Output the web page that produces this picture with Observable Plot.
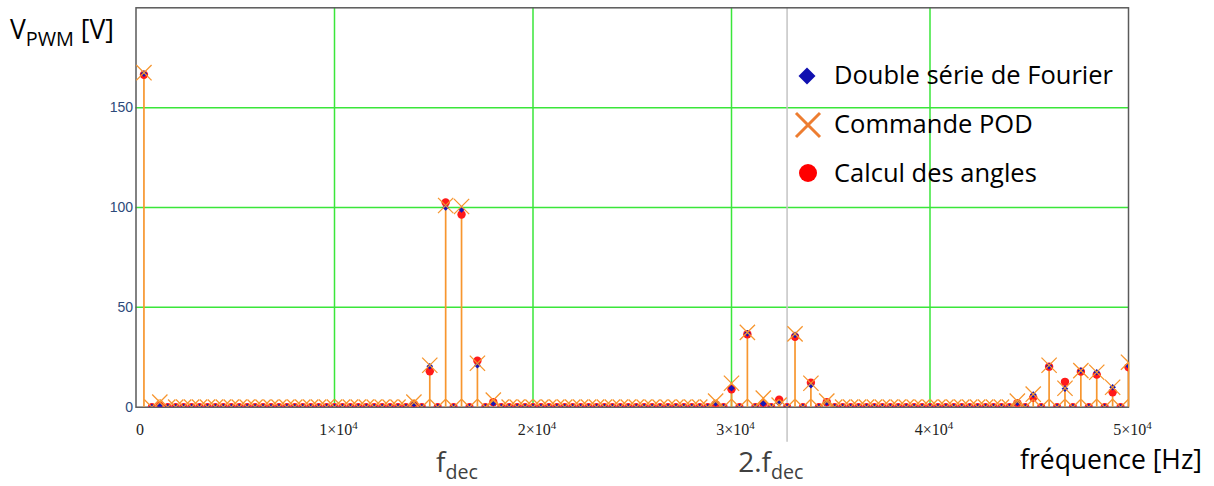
<!DOCTYPE html>
<html><head><meta charset="utf-8">
<script src="https://cdn.jsdelivr.net/npm/d3@7"></script>
<script src="https://cdn.jsdelivr.net/npm/@observablehq/plot@0.6"></script>
<style>
body{margin:0;background:#fff;}
#wrap{position:relative;width:1214px;height:486px;overflow:hidden;background:#fff;}
.lbl{position:absolute;white-space:nowrap;font-family:"Open Sans",Lato,sans-serif;line-height:1;color:#000;}
.sub{font-size:0.7em;position:relative;top:0.35em;}
</style></head><body><div id="wrap"></div>
<script>
// fundamental frequency (Hz) and harmonic orders
const f0 = 400;
const harmonicOrders = [
  1,2,3,4,5,6,7,8,9,10,11,12,13,14,15,16,17,18,19,20,
  21,22,23,24,25,26,27,28,29,30,31,32,33,34,35,36,37,38,39,40,
  41,42,43,44,45,46,47,48,49,50,51,52,53,54,55,56,57,58,59,60,
  61,62,63,64,65,66,67,68,69,70,71,72,73,74,75,76,77,78,79,80,
  81,82,83,84,85,86,87,88,89,90,91,92,93,94,95,96,97,98,99,100,
  101,102,103,104,105,106,107,108,109,110,111,112,113,114,115,116,117,118,119,120,
  121,122,123,124,125
];
// amplitudes [V] per harmonic
const podValues = [
  167.5,0,2.5,0,0,0,0,0,0,0, 0,0,0,0,0,0,0,0,0,0,
  0,0,0,0,0,0,0,0,0,0, 0,0,0,0,2.5,0,21,0,101,0,
  100.5,0,22,0,3.5,0,0,0,0,0, 0,0,0,0,0,0,0,0,0,0,
  0,0,0,0,0,0,0,0,0,0, 0,0,3,0,12,0,37.5,0,4.5,0,
  1,0,36.7,0,12,0,3,0,0,0, 0,0,0,0,0,0,0,0,0,0,
  0,0,0,0,0,0,0,0,0,0, 3,0,6.5,0,21,0,9.5,0,18.3,0,
  17.5,0,10,0,22.5
];
const fourierValues = [
  167,0,0.8,0,0,0,0,0,0,0, 0,0,0,0,0,0,0,0,0,0,
  0,0,0,0,0,0,0,0,0,0, 0,0,0,0,1.5,0,20.5,0,100,0,
  99,0,21,0,2,0,0,0,0,0, 0,0,0,0,0,0,0,0,0,0,
  0,0,0,0,0,0,0,0,0,0, 0,0,2,0,9.5,0,37,0,1.8,0,
  2,0,36.2,0,11,0,2.3,0,0,0, 0,0,0,0,0,0,0,0,0,0,
  0,0,0,0,0,0,0,0,0,0, 2.2,0,6.3,0,20.5,0,9.3,0,18.3,0,
  17.5,0,10,0,20.8
];
const angleValues = [
  166.5,0,0.8,0,0,0,0,0,0,0, 0,0,0,0,0,0,0,0,0,0,
  0,0,0,0,0,0,0,0,0,0, 0,0,0,0,1.5,0,18,0,102.5,0,
  96.5,0,23.3,0,2.5,0,0,0,0,0, 0,0,0,0,0,0,0,0,0,0,
  0,0,0,0,0,0,0,0,0,0, 0,0,1.5,0,9,0,36.5,0,1.8,0,
  3.8,0,35.3,0,12.3,0,2.5,0,0,0, 0,0,0,0,0,0,0,0,0,0,
  0,0,0,0,0,0,0,0,0,0, 2,0,4.8,0,20.3,0,12.7,0,17.8,0,
  16.3,0,7.5,0,20
];
const xTicks = [0,10000,20000,30000,40000,50000];
const xGridLines = [10000,20000,30000,40000];
const yTicks = [0,50,100,150];
const yGridLines = [50,100,150];
const fDec = 16000;
const markerLineFreq = 32800;
const seriesNames = ["Double série de Fourier","Commande POD","Calcul des angles"];

const data = harmonicOrders.map((n,i)=>({freq:n*f0, pod:podValues[i], fourier:fourierValues[i], angles:angleValues[i]}));

const orange = "#f7962f";
const fmt = d => d===0 ? "0" : `${d/10000}×10^4`;

const chart = Plot.plot({
  width:1214, height:486,
  marginLeft:135.5, marginRight:86, marginTop:7.3, marginBottom:79.3,
  x:{domain:[0,50000]},
  y:{domain:[0,200]},
  style:{background:"transparent"},
  marks:[
    Plot.ruleY(yGridLines,{stroke:"#3ae63a",strokeWidth:1.5}),
    Plot.ruleX(xGridLines,{stroke:"#3ae63a",strokeWidth:1.5}),
    Plot.ruleX([markerLineFreq],{x:d=>d,y1:-17.5,y2:200,stroke:"#c4c4c4",strokeWidth:1.5}),
    Plot.frame({stroke:"#5a5a5a",strokeWidth:1.5}),
    Plot.ruleX(data,{x:"freq",y1:0,y2:"pod",stroke:orange,strokeWidth:1.7}),
    Plot.dot(data,{x:"freq",y:"angles",r:4.2,fill:"#ff1a1a",clip:true}),
    Plot.dot(data,{x:"freq",y:"fourier",symbol:"diamond2",r:3,fill:"#1616b8",clip:true}),
    Plot.dot(data,{x:"freq",y:"pod",symbol:"times",r:7,stroke:orange,strokeWidth:1.3,clip:true}),
    Plot.axisY({ticks:yTicks,tickSize:0,tickPadding:3,fill:"#2d4a7a",label:null}),
    Plot.axisX({ticks:xTicks,tickFormat:fmt,tickSize:0,tickPadding:16,fill:"#222",dx:4,label:null})
  ]
});
const wrap = document.getElementById("wrap");
chart.style.position="absolute"; chart.style.left="0"; chart.style.top="0";
wrap.appendChild(chart);
// tick label styling + superscript exponent in x tick labels
chart.querySelectorAll("text").forEach(t=>{
  const s=t.textContent;
  if(s.includes("×10^")){
    const [base,exp]=s.split("^");
    t.textContent="";
    const a=document.createElementNS("http://www.w3.org/2000/svg","tspan"); a.textContent=base;
    const b=document.createElementNS("http://www.w3.org/2000/svg","tspan"); b.textContent=exp;
    b.setAttribute("dy","-0.5em"); b.style.fontSize="11px";
    t.appendChild(a); t.appendChild(b);
    t.style.fontSize="16px"; t.style.fontFamily="'Liberation Serif', serif";
  } else if(s==="0" && t.closest('[aria-label*="x-axis"]')){
    t.style.fontSize="16px"; t.style.fontFamily="'Liberation Serif', serif";
  } else if(/^\d+$/.test(s)){
    t.style.fontSize="14px"; t.style.fontFamily="'Liberation Sans', sans-serif";
  }
});

const xs = chart.scale("x");
function addLabel(html, style){
  const d=document.createElement("div"); d.className="lbl"; d.innerHTML=html;
  Object.assign(d.style, style); wrap.appendChild(d); return d;
}
addLabel('V<span class="sub" style="font-size:0.75em">PWM</span> [V]',{left:"10px",top:"16px",fontSize:"26.5px"});
addLabel('fréquence [Hz]',{left:"1020px",top:"446px",fontSize:"26.5px"});
const l1=addLabel('f<span class="sub">dec</span>',{top:"447px",fontSize:"28px",color:"#404040"});
l1.style.left=(xs.apply(fDec)+4-l1.offsetWidth/2)+"px";
const l2=addLabel('2.f<span class="sub">dec</span>',{top:"447px",fontSize:"28px",color:"#404040"});
l2.style.left=(xs.apply(2*fDec)-l2.offsetWidth/2)+"px";

// legend
const legendIcons = [
  '<svg width="20" height="20" viewBox="-10 -10 20 20"><path d="M0,-8.5L8.5,0L0,8.5L-8.5,0Z" fill="#1010b0"/></svg>',
  '<svg width="28" height="28" viewBox="-14 -14 28 28"><path d="M-12,-12L12,12M-12,12L12,-12" stroke="#ed7d31" stroke-width="3"/></svg>',
  '<svg width="20" height="20" viewBox="-10 -10 20 20"><circle r="9" fill="#ff0000"/></svg>'
];
const iconPos=[[806.5,76],[808,125],[808,173]];
const legendY=[75,124,173];
seriesNames.forEach((name,i)=>{
  const ic=addLabel(legendIcons[i],{});
  const w = i===1?28:20;
  ic.style.left=(iconPos[i][0]-w/2)+"px"; ic.style.top=(iconPos[i][1]-w/2)+"px";
  const t=addLabel(name,{left:"834px",fontSize:"25.5px"});
  t.style.top=(legendY[i]-t.offsetHeight/2)+"px";
});
</script></body></html>
